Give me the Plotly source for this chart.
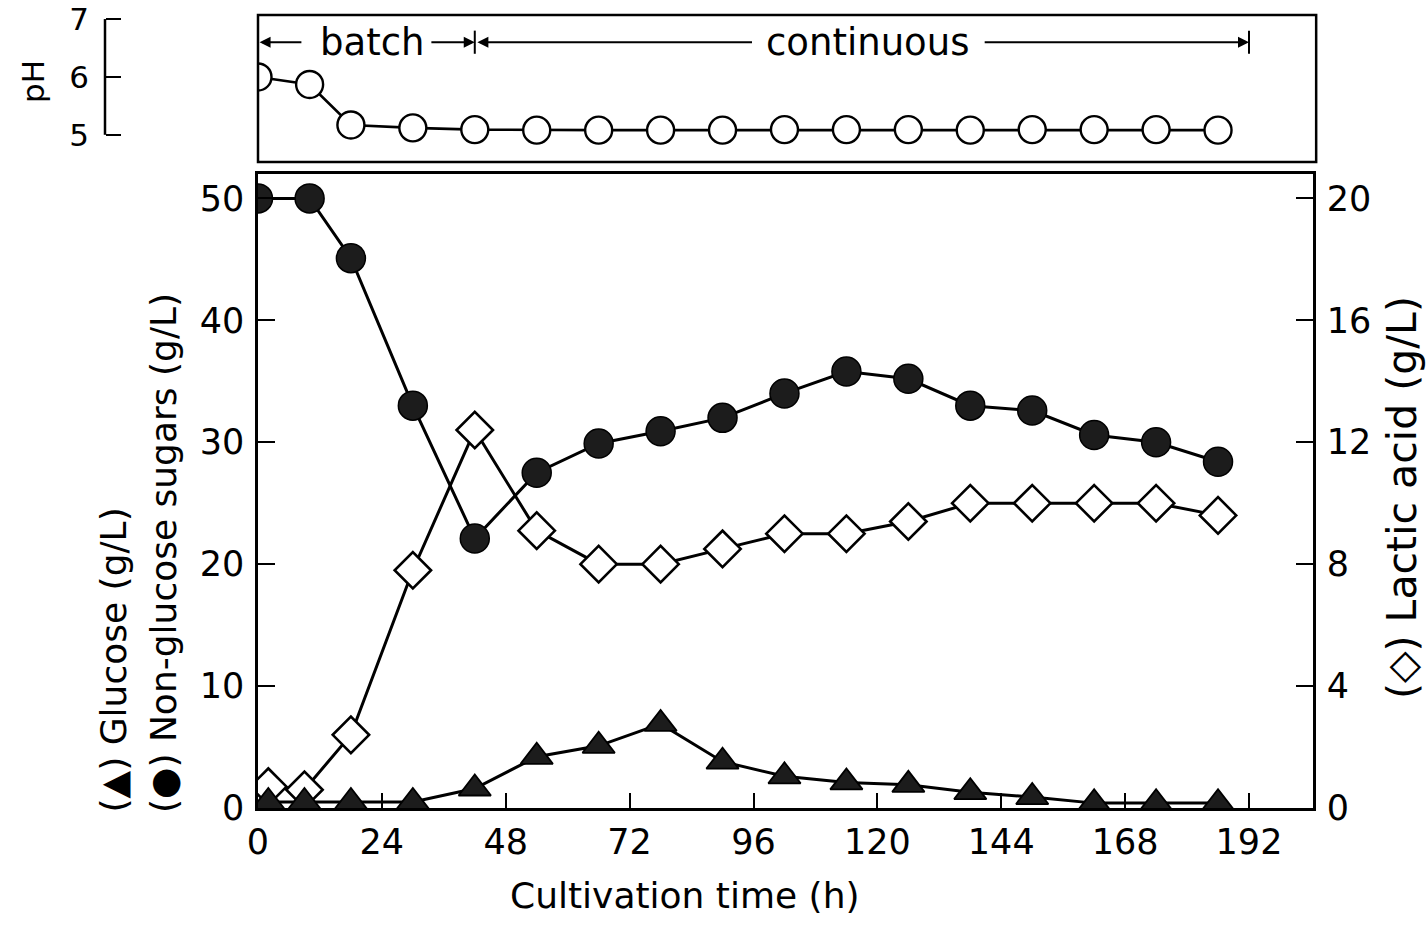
import plotly.graph_objects as go

# Sampling times (h); glucose / lactic acid samples at the start were taken slightly apart
time_h = [0, 10, 18, 30, 42, 54, 66, 78, 90, 102, 114, 126, 138, 150, 162, 174, 186]
time_h_b = [2, 9, 18, 30, 42, 54, 66, 78, 90, 102, 114, 126, 138, 150, 162, 174, 186]

ph = [6.0, 5.87, 5.17, 5.12, 5.09, 5.08, 5.08, 5.08, 5.08, 5.09, 5.09, 5.09, 5.08, 5.09, 5.09, 5.09, 5.08]
non_glucose = [50.0, 50.0, 45.1, 33.0, 22.1, 27.5, 29.9, 30.9, 32.0, 34.0, 35.8, 35.2, 33.0, 32.6, 30.6, 30.0, 28.4]
glucose = [0.5, 0.5, 0.5, 0.5, 1.6, 4.2, 5.1, 6.9, 3.8, 2.6, 2.1, 1.9, 1.3, 0.9, 0.4, 0.4, 0.4]
lactic_acid = [0.7, 0.6, 2.4, 7.8, 12.4, 9.1, 8.0, 8.0, 8.5, 9.0, 9.0, 9.4, 10.0, 10.0, 10.0, 10.0, 9.6]

x_ticks = [0, 24, 48, 72, 96, 120, 144, 168, 192]
sugar_ticks = [0, 10, 20, 30, 40, 50]
lactic_ticks = [0, 4, 8, 12, 16, 20]
ph_ticks = [5, 6, 7]

batch_end = 42
run_end = 192

W, H = 1428, 933
FONT = "DejaVu Sans"
INK = "black"


def px_x(p):
    return p / W


def px_y(p):
    return 1 - p / H


main_x = [px_x(258), px_x(1313)]
main_y = [px_y(808), px_y(174)]
top_y = [px_y(162), px_y(15)]
x_range = [0, 204.4]
sugar_range = [0, 52]
lactic_range = [0, 20.8]
ph_range = [4.53, 7.07]

fig = go.Figure()

# pH panel
fig.add_trace(go.Scatter(
    x=time_h, y=ph, xaxis="x2", yaxis="y2", mode="lines+markers",
    line=dict(color=INK, width=2.6),
    marker=dict(symbol="circle", size=27, color="white", line=dict(color=INK, width=2.4)),
    showlegend=False,
))

# Lactic acid (right-hand scale, base axis of the main panel)
fig.add_trace(go.Scatter(
    x=time_h_b, y=lactic_acid, xaxis="x", yaxis="y", mode="lines+markers",
    line=dict(color=INK, width=3),
    marker=dict(symbol="diamond", size=28, color="white", line=dict(color=INK, width=2.6)),
    showlegend=False,
))

# Non-glucose sugars and glucose (left-hand scale, overlaid on top)
fig.add_trace(go.Scatter(
    x=time_h, y=non_glucose, xaxis="x", yaxis="y3", mode="lines+markers",
    line=dict(color=INK, width=3),
    marker=dict(symbol="circle", size=29, color="#1c1c1c", line=dict(color=INK, width=1.5)),
    showlegend=False,
))
fig.add_trace(go.Scatter(
    x=time_h_b, y=glucose, xaxis="x", yaxis="y3", mode="lines+markers",
    line=dict(color=INK, width=3),
    marker=dict(symbol="triangle-up", size=28, color="#1c1c1c", line=dict(color=INK, width=1.8)),
    showlegend=False,
))

tick_font = dict(family=FONT, size=35, color=INK)
axis_common = dict(showgrid=False, zeroline=False, automargin=False, tickcolor=INK,
                   linecolor=INK, tickfont=tick_font)

fig.update_layout(
    template="none",
    width=W, height=H,
    margin=dict(l=0, r=0, t=0, b=0, autoexpand=False),
    paper_bgcolor="white", plot_bgcolor="white",
    font=dict(family=FONT, color=INK),
    showlegend=False,
    xaxis=dict(
        domain=main_x, range=x_range, anchor="y",
        tickvals=x_ticks, ticks="inside", ticklen=15, tickwidth=2,
        showline=True, linewidth=2.5, mirror=True, ticklabelstandoff=1, **axis_common,
    ),
    yaxis=dict(
        domain=main_y, range=lactic_range, anchor="x", side="right",
        tickvals=lactic_ticks, ticks="inside", ticklen=17, tickwidth=2,
        showline=True, linewidth=2.5, ticklabelstandoff=4, **axis_common,
    ),
    yaxis3=dict(
        range=sugar_range, overlaying="y", side="left", anchor="x",
        tickvals=sugar_ticks, ticks="inside", ticklen=17, tickwidth=2,
        showline=True, linewidth=2.5, ticklabelstandoff=4, **axis_common,
    ),
    xaxis2=dict(
        domain=main_x, range=x_range, anchor="y2", visible=False, automargin=False,
    ),
    yaxis2=dict(
        domain=top_y, range=ph_range, anchor="free", position=px_x(105),
        tickvals=ph_ticks, ticks="inside", ticklen=15, tickwidth=2,
        showline=False, ticklabelstandoff=16,
        **{**axis_common, "tickfont": dict(family=FONT, size=31, color=INK)},
    ),
)

# pH panel frame and scale bracket
fig.add_shape(type="rect", xref="x2 domain", yref="y2 domain", x0=0, x1=1.003, y0=0, y1=1,
              line=dict(color=INK, width=2.5))
fig.add_shape(type="line", xref="paper", yref="y2", x0=px_x(105), x1=px_x(105),
              y0=ph_ticks[0], y1=ph_ticks[-1], line=dict(color=INK, width=2.5))

# Phase arrows
arrow_y = 6.6
arrow_kw = dict(xref="x2", yref="y2", axref="x2", ayref="y2", text="", showarrow=True,
                arrowhead=2, arrowsize=1.1, arrowwidth=2, arrowcolor=INK, standoff=0, startstandoff=0)
for tail, head in [(8.7, 0.3), (33.3, batch_end), (96, batch_end + 0.5), (140.5, run_end)]:
    fig.add_annotation(x=head, y=arrow_y, ax=tail, ay=arrow_y, **arrow_kw)
for xb in [batch_end, run_end]:
    fig.add_shape(type="line", xref="x2", yref="y2", x0=xb, x1=xb, y0=6.4, y1=6.8,
                  line=dict(color=INK, width=2))

label_font = dict(family=FONT, size=37, color=INK)
fig.add_annotation(x=22, y=arrow_y, xref="x2", yref="y2", text="batch", showarrow=False,
                   font=label_font, xanchor="center", yanchor="middle")
fig.add_annotation(x=118, y=arrow_y, xref="x2", yref="y2", text="continuous", showarrow=False,
                   font=label_font, xanchor="center", yanchor="middle")

# Axis titles
title_font = dict(family=FONT, size=36, color=INK)
fig.add_annotation(x=px_x(685), y=px_y(895), xref="paper", yref="paper",
                   text="Cultivation time (h)", showarrow=False, font=title_font,
                   xanchor="center", yanchor="middle")
fig.add_annotation(x=px_x(33), y=px_y(82), xref="paper", yref="paper",
                   text="pH", showarrow=False, textangle=-90,
                   font=dict(family=FONT, size=31, color=INK), xanchor="center", yanchor="middle")
fig.add_annotation(x=px_x(113), y=px_y(815), xref="paper", yref="paper",
                   text="(▲) Glucose (g/L)", showarrow=False, textangle=-90,
                   font=title_font, xanchor="center", yanchor="bottom")
fig.add_annotation(x=px_x(163), y=px_y(815), xref="paper", yref="paper",
                   text="(●) Non-glucose sugars (g/L)", showarrow=False, textangle=-90,
                   font=title_font, xanchor="center", yanchor="bottom")
fig.add_annotation(x=px_x(1402), y=px_y(498), xref="paper", yref="paper",
                   text="(◇) Lactic acid (g/L)", showarrow=False, textangle=-90,
                   font=dict(family=FONT, size=41, color=INK), xanchor="center", yanchor="middle")

fig.write_html("out.html")
